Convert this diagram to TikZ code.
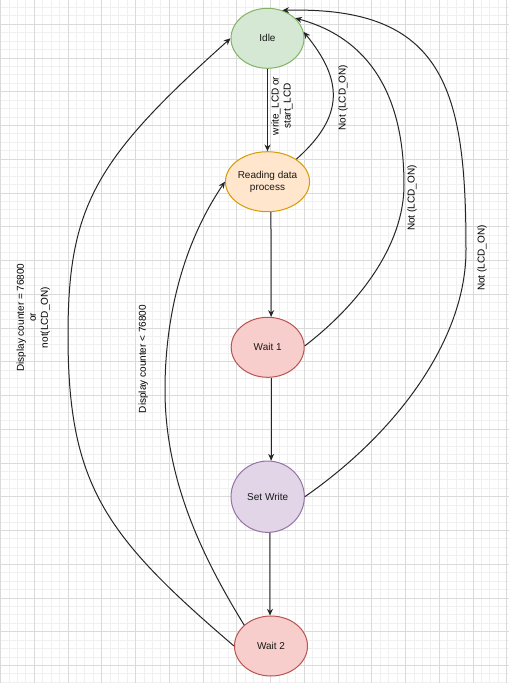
\documentclass[tikz,border=0pt]{standalone}
\usepackage{fontspec}
\setmainfont{Liberation Sans}
\usetikzlibrary{arrows.meta,shapes.geometric}
\definecolor{gridminor}{HTML}{F0F0F0}
\definecolor{gridmajor}{HTML}{DADADA}
\definecolor{gfill}{HTML}{D5E8D4}\definecolor{gline}{HTML}{82B366}
\definecolor{ofill}{HTML}{FFE6CC}\definecolor{oline}{HTML}{D79B00}
\definecolor{rfill}{HTML}{F8CECC}\definecolor{rline}{HTML}{B85450}
\definecolor{pfill}{HTML}{E1D5E7}\definecolor{pline}{HTML}{9673A6}
\begin{document}
\begin{tikzpicture}[x=0.75pt,y=-0.75pt,
  state/.style={ellipse,draw,line width=0.75pt,inner sep=0pt,minimum width=54.75pt,minimum height=45pt,font=\fontsize{7.5pt}{9pt}\selectfont,align=center,text=black!90},
  edge/.style={line width=0.75pt,draw=black!85,-{Stealth[length=5pt,width=4.5pt]}},
  lbl/.style={rotate=90,font=\fontsize{7.5pt}{9pt}\selectfont,align=center,inner sep=0pt},
  minorline/.style={draw=gridminor,line width=0.75pt},
  majorline/.style={draw=gridmajor,line width=0.75pt}]
\useasboundingbox (0,0) rectangle (509,683);
\fill[white] (0,0) rectangle (509,683);
\begin{scope}
\clip (0,0) rectangle (509,683);
\foreach \i in {0,...,61} {\draw[minorline] ({0.6+\i*8.4375},0) -- ({0.6+\i*8.4375},683);}
\foreach \i in {-3,...,78} {\draw[minorline] (0,{24.3+\i*8.4375}) -- (509,{24.3+\i*8.4375});}
\foreach \i in {0,...,15} {\draw[majorline] ({0.6+\i*33.75},0) -- ({0.6+\i*33.75},683);}
\foreach \i in {-1,...,19} {\draw[majorline] (0,{24.3+\i*33.75}) -- (509,{24.3+\i*33.75});}
\end{scope}

\node[state,fill=gfill,draw=gline] (idle) at (267.5,38.3) {Idle};
\node[state,fill=ofill,draw=oline] (rd) at (267.5,181.7) {Reading data\\process};
\node[state,fill=rfill,draw=rline] (w1) at (267.7,347.3) {Wait 1};
\node[state,fill=pfill,draw=pline,minimum width=55pt,minimum height=53.5pt] (sw) at (267.7,496.7) {Set Write};
\node[state,fill=rfill,draw=rline] (w2) at (271,646) {Wait 2};

\coordinate (c1) at (68,335);
\coordinate (c2) at (165,390);
\coordinate (c3) at (404,185);
\coordinate (c4) at (466,250);

% straight transitions
\draw[edge] (idle.south) -- (rd.north);
\draw[edge] ([xshift=2.6pt]rd.south) -- ([xshift=2.6pt]w1.north);
\draw[edge] ([xshift=2.6pt]w1.south) -- ([xshift=2.6pt]sw.north);
\draw[edge] ([xshift=1.7pt]sw.south) -- ([xshift=-0.75pt]w2.north);

% return transitions
\draw[edge] (rd.38) .. controls (345.9,115.3) and (342,79) .. (idle.10);
\draw[edge] (w1.2) .. controls (359.3,304) and (404,245) .. (c3)
  .. controls (404,130) and (391.6,44.3) .. (idle.36);
\draw[edge] (sw.0) .. controls (396.2,433.2) and (466,340) .. (c4)
  .. controls (466,90) and (445,6) .. (idle.62);
\draw[edge] (w2.180) .. controls (104.8,535.5) and (68,485) .. (c1)
  .. controls (68,205) and (96.4,158.5) .. (idle.180);
\draw[edge] (w2.142) .. controls (202.4,557) and (165,480) .. (c2)
  .. controls (165,320) and (181.4,246.2) .. (rd.west);

% labels
\node[lbl] (l1) at (282,106) {write\_LCD or\\start\_LCD};
\node[lbl] (l2) at (343,97.5) {Not (LCD\_ON)};
\node[lbl] (l3) at (412,198) {Not (LCD\_ON)};
\node[lbl] (l4) at (482,258) {Not (LCD\_ON)};
\node[lbl] (l5) at (33.3,317.5) {Display counter = 76800\\or\\not(LCD\_ON)};
\node[lbl] (l6) at (143.3,359) {Display counter < 76800};
\end{tikzpicture}
\end{document}
